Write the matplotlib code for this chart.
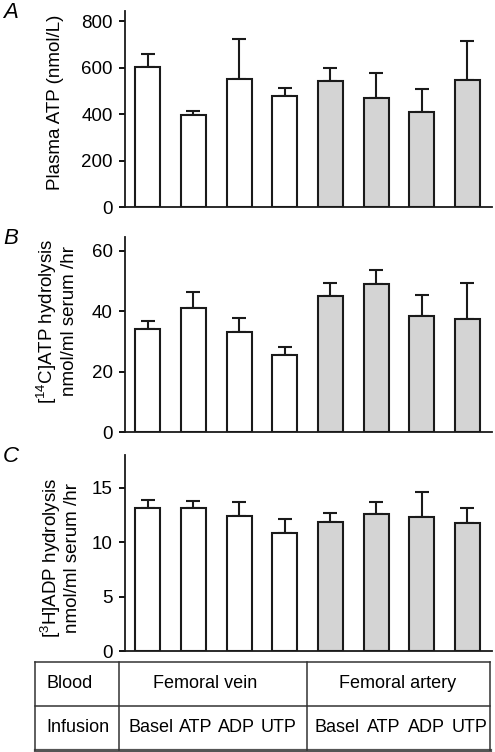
import matplotlib
matplotlib.use("Agg")
import matplotlib.pyplot as plt
import numpy as np

plt.rcParams['font.family'] = ['Liberation Sans', 'DejaVu Sans']
plt.rcParams['mathtext.fontset'] = 'custom'
plt.rcParams['mathtext.rm'] = 'Liberation Sans'
plt.rcParams['mathtext.it'] = 'Liberation Sans:italic'

# Data (means and upper SEM)
groups = ["Femoral vein", "Femoral artery"]
infusions = ["Basel", "ATP", "ADP", "UTP"]

atp_plasma = [601, 397, 550, 479, 544, 469, 410, 545]
atp_plasma_err = [59, 16, 175, 32, 56, 108, 99, 168]

atp_hydro = [34.3, 41.1, 33.2, 25.7, 45.1, 49.0, 38.4, 37.5]
atp_hydro_err = [2.6, 5.4, 4.7, 2.5, 4.4, 4.6, 7.0, 12.0]

adp_hydro = [13.1, 13.1, 12.44, 10.88, 11.85, 12.58, 12.31, 11.73]
adp_hydro_err = [0.74, 0.68, 1.25, 1.28, 0.80, 1.14, 2.29, 1.40]

fills = ["white"] * 4 + ["#d4d4d4"] * 4
edge = "#1a1a1a"

W, H = 495, 752
fig = plt.figure(figsize=(W / 100, H / 100), dpi=100)

panels = [
    ("A", atp_plasma, atp_plasma_err, 844, [0, 200, 400, 600, 800],
     "Plasma ATP (nmol/L)", 11, 207, 0.535, -0.19),
    ("B", atp_hydro, atp_hydro_err, 64.7, [0, 20, 40, 60],
     "[$^{14}$C]ATP hydrolysis\nnmol/ml serum /hr", 236.7, 432.3, 0.569, -0.187),
    ("C", adp_hydro, adp_hydro_err, 18, [0, 5, 10, 15],
     "[$^{3}$H]ADP hydrolysis\nnmol/ml serum /hr", 455, 651, 0.477, -0.177),
]

x = np.arange(8)
for letter, vals, errs, ytop, yticks, ylab, ptop, pbot, lab_y, lab_x in panels:
    ax = fig.add_axes([125 / W, 1 - pbot / H, (491.7 - 125) / W, (pbot - ptop) / H])
    ax.bar(x, vals, width=0.55, color=fills, edgecolor=edge, linewidth=1.5, zorder=3)
    ax.errorbar(x, vals, yerr=[np.zeros(8), errs], fmt="none", ecolor=edge,
                elinewidth=1.5, capsize=4.7, capthick=1.5, zorder=2)
    ax.set_xlim(-0.5, 7.53)
    ax.set_ylim(0, ytop)
    ax.set_yticks(yticks)
    ax.set_xticks([])
    for s in ["top", "right"]:
        ax.spines[s].set_visible(False)
    for s in ["left", "bottom"]:
        ax.spines[s].set_linewidth(1.3)
        ax.spines[s].set_color(edge)
    ax.tick_params(axis="y", direction="out", length=4, width=1.3, pad=5,
                   labelsize=13.5, colors="black")
    ax.text(lab_x, lab_y, ylab, transform=ax.transAxes, rotation=90,
            ha="center", va="center", fontsize=13.5, multialignment="center",
            linespacing=1.12)
    fig.text(3 / W, 1 - (ptop + 2) / H, letter, fontsize=16, style="italic",
             ha="left", va="center")

# Table underneath the bar panels
tab = fig.add_axes([0, 0, 1, 1], zorder=-1)
tab.set_xlim(0, W)
tab.set_ylim(H, 0)
tab.axis("off")
line_kw = dict(color="#333333", linewidth=1.1)
tab.plot([34.7, 490], [662.3, 662.3], **line_kw)
tab.plot([34.7, 490], [705.7, 705.7], **line_kw)
tab.plot([34.7, 490], [749.5, 749.5], color="#555555", linewidth=2.3)
for xv in [34.7, 118.5, 306.5, 490]:
    tab.plot([xv, xv], [662.3, 749.5], **line_kw)

tfs = 13
tab.text(46.5, 684, "Blood", fontsize=tfs, ha="left", va="center")
tab.text(46.5, 728, "Infusion", fontsize=tfs, ha="left", va="center")
tab.text(205, 684, groups[0], fontsize=tfs, ha="center", va="center")
tab.text(398, 684, groups[1], fontsize=tfs, ha="center", va="center")
left_pos = [150.6, 195.8, 236.9, 278.5]
right_pos = [337.5, 384, 426.7, 469.5]
for lbl, px in zip(infusions, left_pos):
    tab.text(px, 728, lbl, fontsize=tfs, ha="center", va="center")
for lbl, px in zip(infusions, right_pos):
    tab.text(px, 728, lbl, fontsize=tfs, ha="center", va="center")

fig.savefig("out.png", dpi=100)
